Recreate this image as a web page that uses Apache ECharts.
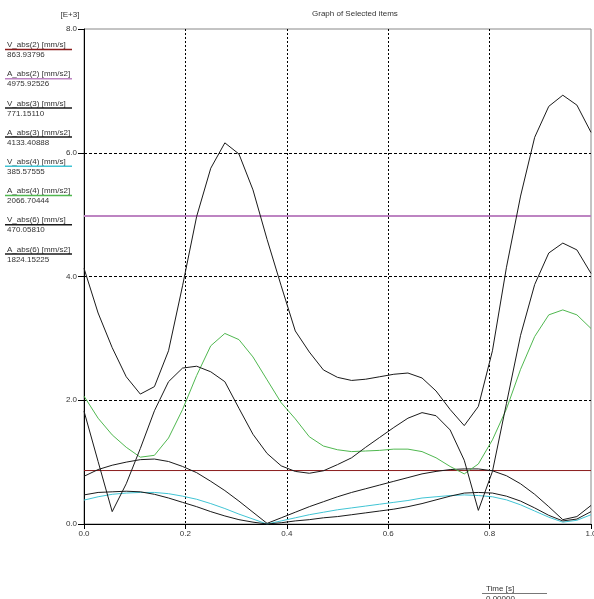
<!DOCTYPE html>
<html>
<head>
<meta charset="utf-8">
<script src="https://cdn.jsdelivr.net/npm/echarts@6/dist/echarts.min.js"></script>
<style>
  html, body { margin: 0; padding: 0; background: #fff; overflow: hidden; }
  #graph { width: 594px; height: 599px; }
</style>
</head>
<body>
<div id="graph"></div>
<script>
// time samples [s]
var times = [0, 0.0278, 0.0556, 0.0833, 0.1111, 0.1389, 0.1667, 0.1944, 0.2222, 0.25,
  0.2778, 0.3056, 0.3333, 0.3611, 0.3889, 0.4167, 0.4444, 0.4722, 0.5, 0.5278,
  0.5556, 0.5833, 0.6111, 0.6389, 0.6667, 0.6944, 0.7222, 0.75, 0.7778, 0.8056,
  0.8333, 0.8611, 0.8889, 0.9167, 0.9444, 0.9722, 1.0];

// values in [E+3]
var vAbs2 = 0.86394; // constant
var aAbs2 = 4.97593; // constant
var vAbs3 = [0.771, 0.88, 0.95, 1.00, 1.04, 1.05, 1.01, 0.93, 0.83, 0.69,
  0.54, 0.37, 0.19, 0.01, 0.10, 0.19, 0.28, 0.36, 0.44, 0.51,
  0.57, 0.63, 0.69, 0.75, 0.81, 0.85, 0.88, 0.89, 0.89, 0.86,
  0.78, 0.65, 0.48, 0.28, 0.07, 0.12, 0.30];
var aAbs3 = [4.133, 3.41, 2.85, 2.38, 2.10, 2.22, 2.80, 3.85, 4.97, 5.75,
  6.16, 5.98, 5.40, 4.60, 3.85, 3.12, 2.78, 2.49, 2.37, 2.32,
  2.34, 2.38, 2.42, 2.44, 2.36, 2.15, 1.85, 1.59, 1.90, 2.80,
  4.15, 5.30, 6.25, 6.75, 6.93, 6.77, 6.33];
var vAbs4 = [0.386, 0.44, 0.48, 0.50, 0.51, 0.51, 0.49, 0.45, 0.40, 0.33,
  0.25, 0.16, 0.08, 0.00, 0.05, 0.10, 0.15, 0.19, 0.23, 0.26,
  0.29, 0.32, 0.35, 0.38, 0.42, 0.44, 0.46, 0.47, 0.46, 0.44,
  0.39, 0.31, 0.21, 0.11, 0.03, 0.06, 0.15];
var aAbs4 = [2.067, 1.71, 1.44, 1.24, 1.08, 1.11, 1.39, 1.85, 2.40, 2.88,
  3.08, 2.98, 2.70, 2.33, 1.96, 1.70, 1.41, 1.26, 1.20, 1.17,
  1.18, 1.19, 1.21, 1.21, 1.17, 1.07, 0.93, 0.81, 0.97, 1.36,
  1.86, 2.50, 3.03, 3.38, 3.46, 3.38, 3.16];
var vAbs6 = [0.470, 0.51, 0.52, 0.53, 0.52, 0.48, 0.42, 0.35, 0.28, 0.20,
  0.13, 0.07, 0.03, 0.00, 0.02, 0.05, 0.07, 0.10, 0.12, 0.15,
  0.18, 0.21, 0.24, 0.28, 0.33, 0.39, 0.45, 0.50, 0.51, 0.50,
  0.45, 0.37, 0.26, 0.14, 0.05, 0.08, 0.20];
var aAbs6 = [1.824, 1.01, 0.20, 0.65, 1.22, 1.83, 2.30, 2.52, 2.55, 2.46,
  2.30, 1.87, 1.45, 1.14, 0.94, 0.85, 0.82, 0.86, 0.96, 1.07,
  1.24, 1.40, 1.56, 1.71, 1.80, 1.75, 1.52, 1.03, 0.22, 0.85,
  1.95, 3.05, 3.87, 4.38, 4.54, 4.43, 4.05];

// legend (values at time 0)
var legendNames = ['V_abs(2) [mm/s]', 'A_abs(2) [mm/s2]', 'V_abs(3) [mm/s]', 'A_abs(3) [mm/s2]',
  'V_abs(4) [mm/s]', 'A_abs(4) [mm/s2]', 'V_abs(6) [mm/s]', 'A_abs(6) [mm/s2]'];
var legendValues = ['863.93796', '4975.92526', '771.15110', '4133.40888',
  '385.57555', '2066.70444', '470.05810', '1824.15225'];
var colors = ['#8b1c1c', '#bd84c2', '#1a1a1a', '#1a1a1a', '#40c4d4', '#50b850', '#1a1a1a', '#1a1a1a'];
var timeValue = '0.00000';

var FONT = '"Liberation Sans", Arial, sans-serif';

function pairs(arr) {
  return arr.map(function (v, i) { return [times[i], v]; });
}
function flat(v) {
  return [[times[0], v], [times[times.length - 1], v]];
}

var seriesData = [flat(vAbs2), flat(aAbs2), pairs(vAbs3), pairs(aAbs3),
  pairs(vAbs4), pairs(aAbs4), pairs(vAbs6), pairs(aAbs6)];

var series = seriesData.map(function (d, i) {
  return {
    name: legendNames[i],
    type: 'line',
    data: d,
    symbol: 'none',
    silent: true,
    animation: false,
    z: i === 1 ? 3 : 4,
    lineStyle: { color: colors[i], width: i === 1 ? 2 : 1 }
  };
});

var graphics = [
  { type: 'text', style: { text: '[E+3]', x: 70, y: 15, font: '8px ' + FONT, fill: '#333', textAlign: 'center', textVerticalAlign: 'middle' } }
];
for (var i = 0; i < legendNames.length; i++) {
  var y0 = 45 + 29.2 * i;
  graphics.push({ type: 'text', style: { text: legendNames[i], x: 7, y: y0, font: '8px ' + FONT, fill: '#333', textVerticalAlign: 'middle' } });
  graphics.push({ type: 'line', shape: { x1: 5, y1: y0 + 4.5, x2: 72, y2: y0 + 4.5 }, style: { stroke: colors[i], lineWidth: 1.5 } });
  graphics.push({ type: 'text', style: { text: legendValues[i], x: 7, y: y0 + 10, font: '8px ' + FONT, fill: '#333', textVerticalAlign: 'middle' } });
}
graphics.push({ type: 'text', style: { text: 'Time [s]', x: 486, y: 589, font: '8px ' + FONT, fill: '#333', textVerticalAlign: 'middle' } });
graphics.push({ type: 'line', shape: { x1: 482, y1: 593.5, x2: 547, y2: 593.5 }, style: { stroke: '#777', lineWidth: 1 } });
graphics.push({ type: 'text', style: { text: timeValue, x: 486, y: 599, font: '8px ' + FONT, fill: '#333', textVerticalAlign: 'middle' } });

var option = {
  backgroundColor: '#fff',
  animation: false,
  title: {
    text: 'Graph of Selected items',
    left: 312,
    top: 10,
    padding: 0,
    textStyle: { fontSize: 8, fontWeight: 'normal', color: '#333', fontFamily: FONT }
  },
  grid: {
    left: 84, right: 3, top: 29, bottom: 75,
    outerBoundsMode: 'none',
    show: true, borderColor: '#888', borderWidth: 1, backgroundColor: 'transparent'
  },
  xAxis: {
    type: 'value',
    min: 0, max: 1, interval: 0.2,
    axisLine: { show: true, onZero: false, lineStyle: { color: '#000', width: 1 } },
    axisTick: { show: true, length: 5, lineStyle: { color: '#000' } },
    axisLabel: { margin: 6, fontSize: 8, color: '#333', fontFamily: FONT, formatter: function (v) { return v.toFixed(1); } },
    splitLine: { show: true, showMinLine: false, showMaxLine: false, lineStyle: { color: '#000', type: [2, 2], width: 1 } }
  },
  yAxis: {
    type: 'value',
    min: 0, max: 8, interval: 2,
    axisLine: { show: true, onZero: false, lineStyle: { color: '#000', width: 1 } },
    axisTick: { show: true, length: 6, lineStyle: { color: '#000' } },
    axisLabel: { margin: 7, fontSize: 8, color: '#333', fontFamily: FONT, formatter: function (v) { return v.toFixed(1); } },
    splitLine: { show: true, showMinLine: false, showMaxLine: false, lineStyle: { color: '#000', type: [3, 2], width: 1 } }
  },
  graphic: graphics,
  series: series
};

var myChart = echarts.init(document.getElementById('graph'), null, { renderer: 'canvas' });
myChart.setOption(option);
</script>
</body>
</html>
